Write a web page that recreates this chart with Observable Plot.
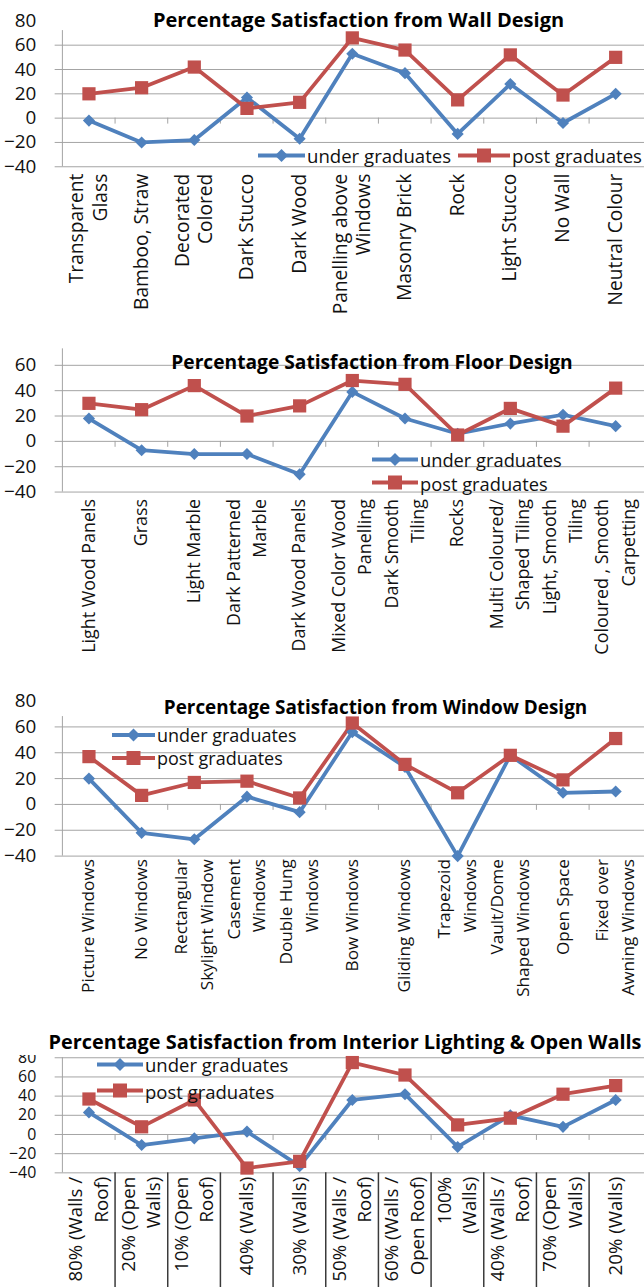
<!DOCTYPE html>
<html>
<head>
<meta charset="utf-8">
<script src="https://cdn.jsdelivr.net/npm/d3@7"></script>
<script src="https://cdn.jsdelivr.net/npm/@observablehq/plot@0.6"></script>
<style>
html,body{margin:0;padding:0;background:#fff;}
body{width:644px;height:1287px;position:relative;overflow:hidden;font-family:"Open Sans",sans-serif;color:#111;}
.panel{position:absolute;left:0;width:644px;overflow:hidden;}
.title{position:absolute;transform:translate(-50%,-50%);font-weight:700;white-space:nowrap;color:#000;line-height:24px;}
.mask{position:absolute;left:0;width:644px;background:#fff;}
.legend-item{position:absolute;display:flex;align-items:center;transform:translateY(-50%);white-space:nowrap;color:#111;}
.legend-item svg{display:block}
</style>
</head>
<body>
<script>
// ---- data ----
const seriesNames = ["under graduates", "post graduates"];
const seriesColors = ["#4F81BD", "#C0504D"];

const wallCategories = ["Transparent\nGlass","Bamboo, Straw","Decorated\nColored","Dark Stucco","Dark Wood","Panelling above\nWindows","Masonry Brick","Rock","Light Stucco","No Wall","Neutral Colour"];
const wallUnder = [-2,-20,-18,17,-17,53,37,-13,28,-4,20];
const wallPost  = [20,25,42,8,13,66,56,15,52,19,50];

const floorCategories = ["Light Wood Panels","Grass","Light Marble","Dark Patterned\nMarble","Dark Wood Panels","Mixed Color Wood\nPanelling","Dark Smooth\nTiling","Rocks","Multi Coloured/\nShaped Tiling","Light, Smooth\nTiling","Coloured , Smooth\nCarpetting"];
const floorUnder = [18,-7,-10,-10,-26,39,18,6,14,21,12];
const floorPost  = [30,25,44,20,28,48,45,5,26,12,42];

const windowCategories = ["Picture Windows","No Windows","Rectangular\nSkylight Window","Casement\nWindows","Double Hung\nWindows","Bow Windows","Gliding Windows","Trapezoid\nWindows","Vault/Dome\nShaped Windows","Open Space","Fixed over\nAwning Windows"];
const windowUnder = [20,-22,-27,6,-6,56,29,-40,38,9,10];
const windowPost  = [37,7,17,18,5,63,31,9,38,19,51];

const lightingCategories = ["80% (Walls /\nRoof)","20% (Open\nWalls)","10% (Open\nRoof)","40% (Walls)","30% (Walls)","50% (Walls /\nRoof)","60% (Walls /\nOpen Roof)","100%\n(Walls)","40% (Walls /\nRoof)","70% (Open\nWalls)","20% (Walls)"];
const lightingUnder = [23,-11,-4,3,-33,36,42,-13,20,8,36];
const lightingPost  = [37,8,36,-35,-28,75,62,10,17,42,51];

const yTicksTo80 = [-40,-20,0,20,40,60,80];
const yTicksTo60 = [-40,-20,0,20,40,60];

const titles = [
  "Percentage Satisfaction from Wall Design",
  "Percentage Satisfaction from Floor Design",
  "Percentage Satisfaction from Window Design",
  "Percentage Satisfaction from Interior Lighting & Open Walls"
];

// ---- layout (page pixels) ----
const W = 648, ML = 60, MR = 0;
const GRID = "#a3a3a3";
const panels = [
  {cats: wallCategories, under: wallUnder, post: wallPost, top: 0, height: 338, yTopPx: 20.5, yBotPx: 167.3,
   domain: [-40, 80], ticks: yTicksTo80, grid: yTicksTo60, axisTop: 72, lineSp: 24, pad: 7, yFont: 19, xFont: 19.3,
   title: titles[0], titleX: 358.5, titleY: 20, titleFont: 20,
   legend: {items: [[0, 258, 155], [1, 458, 155]], font: 18.6, sw: [47, 52]}},
  {cats: floorCategories, under: floorUnder, post: floorPost, top: 340, height: 338, yTopPx: 348.4, yBotPx: 492.5,
   domain: [-40, 73], ticks: yTicksTo60, grid: yTicksTo60, axisTop: 73, lineSp: 26.5, pad: 7, yFont: 19, xFont: 18,
   title: titles[1], titleX: 372, titleY: 362, titleFont: 19.2,
   legend: {items: [[0, 372, 459], [1, 372, 482.7]], font: 18.3, sw: [46, 46]}},
  {cats: windowCategories, under: windowUnder, post: windowPost, top: 680, height: 338, yTopPx: 700.7, yBotPx: 856.7,
   domain: [-40, 80], ticks: yTicksTo80, grid: yTicksTo60, axisTop: 68, lineSp: 26, pad: 3, yFont: 19, xFont: 17.3,
   title: titles[2], titleX: 375.5, titleY: 706.7, titleFont: 18.9,
   legend: {items: [[0, 112, 735], [1, 112, 758.3]], font: 18, sw: [43, 43]}},
  {cats: lightingCategories, under: lightingUnder, post: lightingPost, top: 1020, height: 267, yTopPx: 1057.5, yBotPx: 1173.3,
   domain: [-40, 80], ticks: yTicksTo80, grid: yTicksTo80, axisTop: 80, lineSp: 25.5, pad: 4, yFont: 16, xFont: 18.8,
   title: titles[3], titleX: 345, titleY: 1041.7, titleFont: 19.9, mask: [1020, 1055], separators: true,
   legend: {items: [[0, 97, 1064], [1, 97, 1090.5]], font: 18.5, sw: [46, 46]}}
];

function swatch(i, w) {
  const h = 18;
  const s = d3.create("svg").attr("width", w).attr("height", h);
  s.append("line").attr("x1", 0).attr("x2", w).attr("y1", h/2).attr("y2", h/2)
    .attr("stroke", seriesColors[i]).attr("stroke-width", 4);
  if (i === 0) {
    const c = w/2, m = h/2, r = 6.5;
    s.append("polygon").attr("points", `${c},${m-r} ${c+r},${m} ${c},${m+r} ${c-r},${m}`).attr("fill", seriesColors[i]);
  } else {
    const a = 14;
    s.append("rect").attr("x", w/2 - a/2).attr("y", h/2 - a/2).attr("width", a).attr("height", a).attr("fill", seriesColors[i]);
  }
  return s.node();
}

panels.forEach((p) => {
  const n = p.cats.length;
  const step = (W - ML - MR) / n;
  const under = p.cats.map((c, i) => ({cat: c, value: p.under[i]}));
  const post = p.cats.map((c, i) => ({cat: c, value: p.post[i]}));

  // tick label lines (category names split at line breaks)
  const labelLines = [];
  p.cats.forEach((c) => {
    const parts = c.split("\n");
    parts.forEach((t, j) => labelLines.push({cat: c, text: t, j, n: parts.length}));
  });
  const labelOpts = {x: "cat", y: () => p.domain[0], text: "text", rotate: -90, textAnchor: "end",
    lineAnchor: "middle", dy: p.pad, fontSize: p.xFont, fill: "#111"};

  const marks = [
    Plot.ruleY(p.grid, {stroke: GRID, strokeWidth: 1, insetLeft: -5}),
    Plot.ruleX([p.cats[0]], {x: (d) => d, y1: () => p.domain[0], y2: () => p.axisTop, dx: -step/2, stroke: GRID, strokeWidth: 1}),
    Plot.ruleX(p.cats.slice(1), {x: (d) => d, y1: () => 0, y2: () => 0, dx: -step/2, insetBottom: -6, stroke: GRID, strokeWidth: 1}),
  ];
  if (p.separators) {
    marks.push(Plot.ruleX(p.cats.slice(1), {x: (d) => d, y1: () => p.domain[0], y2: () => p.domain[0], dx: -step/2, insetBottom: -130, stroke: "#3a3a3a", strokeWidth: 1.5}));
  }
  marks.push(
    Plot.axisY(p.ticks, {tickSize: 0, tickPadding: 24, fontSize: p.yFont, fill: "#111"}),
    Plot.text(labelLines.filter((d) => d.n === 1), labelOpts),
    Plot.text(labelLines.filter((d) => d.n === 2 && d.j === 0), {...labelOpts, dx: -p.lineSp / 2}),
    Plot.text(labelLines.filter((d) => d.n === 2 && d.j === 1), {...labelOpts, dx: p.lineSp / 2}),
    Plot.line(under, {x: "cat", y: "value", stroke: seriesColors[0], strokeWidth: 3.8}),
    Plot.line(post, {x: "cat", y: "value", stroke: seriesColors[1], strokeWidth: 3.8}),
    Plot.dot(under, {x: "cat", y: "value", symbol: "diamond2", r: 5.5, fill: seriesColors[0]}),
    Plot.dot(post, {x: "cat", y: "value", symbol: "square", r: 7.5, fill: seriesColors[1]})
  );
  const chart = Plot.plot({
    width: W,
    height: p.height,
    marginLeft: ML,
    marginRight: MR,
    marginTop: p.yTopPx - p.top,
    marginBottom: p.top + p.height - p.yBotPx,
    style: {fontFamily: "Open Sans", background: "white", overflow: "visible", color: "#111"},
    x: {type: "point", domain: p.cats, padding: 0.5, label: null, axis: null},
    y: {domain: p.domain, label: null},
    marks
  });
  const div = document.createElement("div");
  div.className = "panel";
  div.style.top = p.top + "px";
  div.style.height = p.height + "px";
  div.appendChild(chart);
  document.body.appendChild(div);

  if (p.mask) {
    const m = document.createElement("div");
    m.className = "mask";
    m.style.top = p.mask[0] + "px";
    m.style.height = (p.mask[1] - p.mask[0]) + "px";
    document.body.appendChild(m);
  }

  const t = document.createElement("div");
  t.className = "title";
  t.textContent = p.title;
  t.style.left = p.titleX + "px";
  t.style.top = p.titleY + "px";
  t.style.fontSize = p.titleFont + "px";
  document.body.appendChild(t);

  p.legend.items.forEach(([si, left, y]) => {
    const r = document.createElement("div");
    r.className = "legend-item";
    r.style.left = left + "px";
    r.style.top = y + "px";
    r.style.fontSize = p.legend.font + "px";
    r.appendChild(swatch(si, p.legend.sw[si]));
    const s = document.createElement("span");
    s.textContent = seriesNames[si];
    s.style.marginLeft = "2px";
    r.appendChild(s);
    document.body.appendChild(r);
  });
});
</script>
</body>
</html>
